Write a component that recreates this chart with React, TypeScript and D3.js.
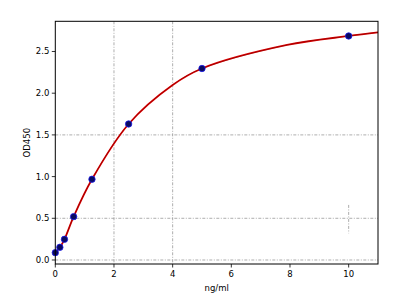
import React from "react";
import * as d3 from "d3";

const concX = [0, 0.156, 0.3125, 0.625, 1.25, 2.5, 5, 10];
const odY = [0.088, 0.152, 0.248, 0.52, 0.968, 1.631, 2.296, 2.686];
const fitX = [0, 0.156, 0.3125, 0.625, 1.25, 2.5, 4, 5, 7.9, 10, 11];
const fitY = [0.088, 0.152, 0.248, 0.52, 0.968, 1.631, 2.098, 2.296, 2.578, 2.686, 2.73];
const xTicks = [0, 2, 4, 6, 8, 10];
const yTicks = [0, 0.5, 1.0, 1.5, 2.0, 2.5];
const gridX = [2, 4];
const gridY = [0, 0.5, 1.5];

export default function App() {
  const W = 417, H = 301;
  const L = 55.3, R = 378, T = 21.3, B = 264;
  const x = d3.scaleLinear().domain([0, 11]).range([L, R]);
  const y = d3.scaleLinear().domain([-0.048, 2.862]).range([B, T]);
  const line = d3
    .line<number>()
    .x((_, i) => x(fitX[i]))
    .y((d) => y(d))
    .curve(d3.curveCatmullRom.alpha(0.5));
  const path = line(fitY) || "";
  const font = "DejaVu Sans, sans-serif";
  const gridStyle = { stroke: "#999", strokeWidth: 0.8, strokeDasharray: "3,1.5,1,1.5" };
  return (
    <svg width={W} height={H} style={{ position: "absolute", left: 0, top: 0 }}>
      <rect width={W} height={H} fill="#fff" />
      {gridX.map((g) => (
        <line key={"gx" + g} x1={x(g)} x2={x(g)} y1={T} y2={B} {...gridStyle} />
      ))}
      <line x1={x(10)} x2={x(10)} y1={y(0.66)} y2={y(0.32)} {...gridStyle} />
      {gridY.map((g) => (
        <line key={"gy" + g} x1={L} x2={R} y1={y(g)} y2={y(g)} {...gridStyle} />
      ))}
      <path d={path} fill="none" stroke="#e00000" strokeWidth={1.8} />
      <path d={path} fill="none" stroke="#500000" strokeWidth={0.6} opacity={0.7} />
      {concX.map((c, i) => (
        <circle key={"p" + i} cx={x(c)} cy={y(odY[i])} r={3.2} fill="#0a0a60" stroke="#1a1aee" strokeWidth={0.8} />
      ))}
      <rect x={L} y={T} width={R - L} height={B - T} fill="none" stroke="#000" strokeWidth={1} />
      {xTicks.map((t) => (
        <g key={"xt" + t}>
          <line x1={x(t)} x2={x(t)} y1={B} y2={B + 3.5} stroke="#000" strokeWidth={0.8} />
          <text x={x(t)} y={B + 13} textAnchor="middle" fontSize={8.5} fontFamily={font} fill="#000">
            {t}
          </text>
        </g>
      ))}
      {yTicks.map((t) => (
        <g key={"yt" + t}>
          <line x1={L - 3.5} x2={L} y1={y(t)} y2={y(t)} stroke="#000" strokeWidth={0.8} />
          <text x={L - 6} y={y(t) + 3} textAnchor="end" fontSize={8.5} fontFamily={font} fill="#000">
            {t.toFixed(1)}
          </text>
        </g>
      ))}
      <text x={(L + R) / 2} y={291} textAnchor="middle" fontSize={8.5} fontFamily={font} fill="#000">
        ng/ml
      </text>
      <text
        transform={`translate(30,${(T + B) / 2}) rotate(-90)`}
        textAnchor="middle"
        fontSize={8.5}
        fontFamily={font}
        fill="#000"
      >
        OD450
      </text>
    </svg>
  );
}
